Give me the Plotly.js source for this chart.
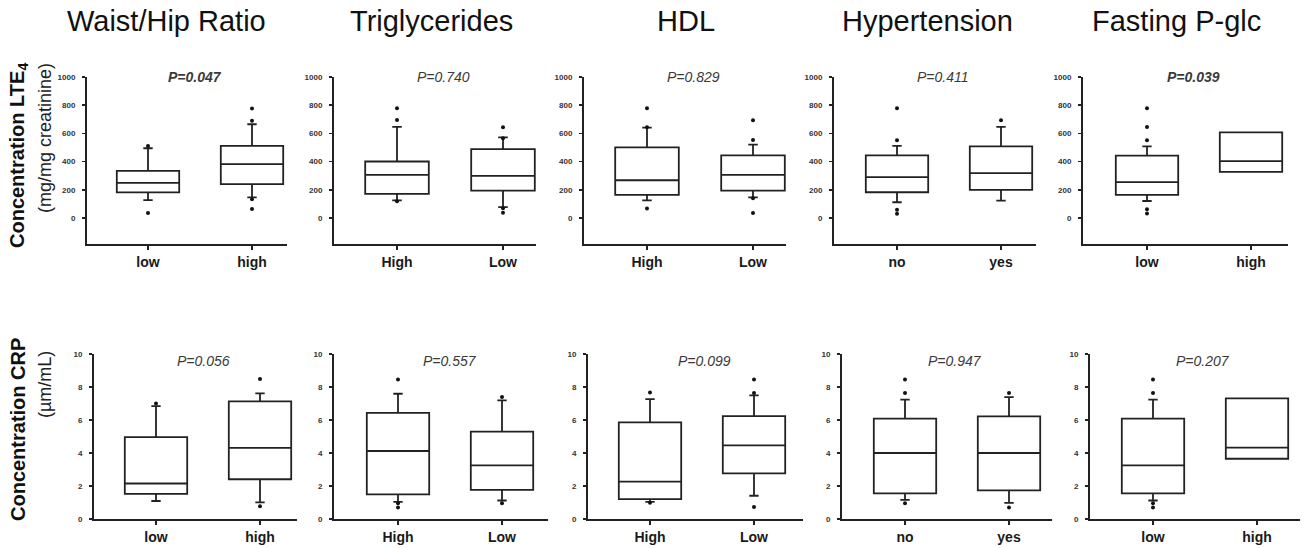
<!DOCTYPE html>
<html>
<head>
<meta charset="utf-8">
<script src="https://cdn.plot.ly/plotly-3.0.1.min.js"></script>
<style>html,body{margin:0;padding:0;background:#fff;}#chart{width:1313px;height:548px;}</style>
</head>
<body>
<div id="chart"></div>
<script>
// ---------- DATA ----------
const columnTitles = ["Waist/Hip Ratio", "Triglycerides", "HDL", "Hypertension", "Fasting P-glc"];
const groupLabels = [["low", "high"], ["High", "Low"], ["High", "Low"], ["no", "yes"], ["low", "high"]];

// LTE4 (mg/mg creatinine)
const lteQ1 = [[182, 240], [171, 195], [164, 195], [183, 200], [164, 328]];
const lteMedian = [[250, 382], [306, 299], [268, 306], [290, 318], [254, 404]];
const lteQ3 = [[335, 512], [401, 489], [501, 444], [444, 508], [442, 608]];
const lteLower = [[127, 146], [126, 78], [126, 147], [112, 124], [121, 328]];
const lteUpper = [[495, 665], [646, 572], [641, 520], [511, 646], [508, 608]];
const lteOutliers = [
  [[510, 35], [690, 776, 134, 64]],
  [[696, 779, 119], [565, 644, 69, 38]],
  [[644, 779, 67], [553, 694, 140, 36]],
  [[551, 779, 59, 31], [694]],
  [[551, 646, 779, 62, 33], []]
];
const ltePValues = [0.047, 0.740, 0.829, 0.411, 0.039];
const lteTicks = [0, 200, 400, 600, 800, 1000];

// CRP (µm/mL)
const crpQ1 = [[1.52, 2.41], [1.49, 1.77], [1.20, 2.77], [1.55, 1.73], [1.55, 3.65]];
const crpMedian = [[2.15, 4.31], [4.12, 3.25], [2.27, 4.46], [4.00, 4.00], [3.25, 4.32]];
const crpQ3 = [[4.96, 7.13], [6.43, 5.30], [5.86, 6.24], [6.08, 6.22], [6.08, 7.31]];
const crpLower = [[1.09, 1.01], [1.04, 1.12], [1.04, 1.41], [1.16, 0.98], [1.12, 3.65]];
const crpUpper = [[6.84, 7.61], [7.59, 7.19], [7.27, 7.49], [7.23, 7.39], [7.23, 7.31]];
const crpOutliers = [
  [[7.0], [8.48, 0.77]],
  [[8.45, 0.96, 0.70], [7.39, 0.96]],
  [[7.67, 0.98], [7.63, 8.45, 0.72]],
  [[7.63, 8.45, 0.96], [7.63, 0.70]],
  [[7.63, 8.45, 0.96, 0.70], []]
];
const crpPValues = [0.056, 0.557, 0.099, 0.947, 0.207];
const crpTicks = [0, 2, 4, 6, 8, 10];

// ---------- LAYOUT GEOMETRY ----------
const W = 1313, H = 548;
const FONT = "Liberation Sans, Arial, Helvetica, sans-serif";
const INK = "#222";
const rows = [
  { axes: [[87, 287], [334, 536], [584, 786], [834, 1036], [1083, 1288]],
    ticks: [[148, 252], [397, 503], [647, 753], [897, 1001], [1147, 1251]],
    yTop: 77, yBottom: 244, yRange: [-184, 1000], pY: 1000,
    q1: lteQ1, med: lteMedian, q3: lteQ3, lo: lteLower, hi: lteUpper, out: lteOutliers,
    p: ltePValues, yticks: lteTicks },
  { axes: [[94, 297], [334, 548], [588, 803], [842, 1052], [1090, 1300]],
    ticks: [[156, 260], [398, 502], [650, 754], [905, 1009], [1153, 1257]],
    yTop: 354, yBottom: 519, yRange: [0, 10], pY: 9.6,
    q1: crpQ1, med: crpMedian, q3: crpQ3, lo: crpLower, hi: crpUpper, out: crpOutliers,
    p: crpPValues, yticks: crpTicks }
];

const traces = [];
const layout = {
  width: W, height: H,
  margin: { l: 0, r: 0, t: 0, b: 0 },
  paper_bgcolor: "#fff", plot_bgcolor: "rgba(0,0,0,0)",
  showlegend: false,
  font: { family: FONT, color: INK },
  annotations: []
};

rows.forEach((row, r) => {
  for (let c = 0; c < 5; c++) {
    const k = r * 5 + c + 1;
    const xa = "x" + (k === 1 ? "" : k), ya = "y" + (k === 1 ? "" : k);
    const xKey = "xaxis" + (k === 1 ? "" : k), yKey = "yaxis" + (k === 1 ? "" : k);
    const cats = groupLabels[c];
    traces.push({
      type: "box", xaxis: xa, yaxis: ya,
      x: cats,
      q1: row.q1[c], median: row.med[c], q3: row.q3[c],
      lowerfence: row.lo[c], upperfence: row.hi[c],
      boxpoints: false, width: 0.6, whiskerwidth: 0.15,
      fillcolor: "rgba(0,0,0,0)",
      line: { color: INK, width: 1.8 },
      hoverinfo: "skip"
    });
    const ox = [], oy = [];
    row.out[c].forEach((vals, g) => vals.forEach(v => { ox.push(cats[g]); oy.push(v); }));
    if (ox.length) {
      traces.push({
        type: "scatter", mode: "markers", xaxis: xa, yaxis: ya,
        x: ox, y: oy,
        marker: { color: "#111", size: 4 },
        hoverinfo: "skip"
      });
    }
    const [a0, a1] = row.axes[c], [t0, t1] = row.ticks[c];
    const step = t1 - t0;
    layout[xKey] = {
      domain: [a0 / W, a1 / W], anchor: ya,
      type: "category", categoryorder: "array", categoryarray: cats,
      range: [(a0 - t0) / step, (a1 - t0) / step],
      showline: true, linecolor: INK, linewidth: 2,
      showgrid: false, zeroline: false,
      ticks: "outside", ticklen: 4, tickwidth: 1.5, tickcolor: INK,
      tickfont: { family: FONT, size: 14, weight: 700, color: "#1a1a1a" },
      ticklabelstandoff: 0,
      fixedrange: true
    };
    layout[yKey] = {
      domain: [1 - row.yBottom / H, 1 - row.yTop / H], anchor: xa,
      range: row.yRange,
      tickvals: row.yticks,
      showline: true, linecolor: INK, linewidth: 2,
      showgrid: false, zeroline: false,
      ticks: "outside", ticklen: 3, tickwidth: 1.5, tickcolor: INK,
      tickfont: { family: FONT, size: 8, weight: 700, color: "#333" },
      ticklabelstandoff: 5,
      fixedrange: true
    };
    const pv = row.p[c];
    let txt = "<i>P=" + pv.toFixed(3) + "</i>";
    if (pv < 0.05) txt = "<b>" + txt + "</b>";
    layout.annotations.push({
      xref: xa + " domain", yref: ya, x: 0.54, y: row.pY,
      xanchor: "center", yanchor: "middle", showarrow: false,
      text: txt, font: { family: FONT, size: 14, color: "#3a3a3a" }
    });
  }
});

// column titles
const titleCenters = [166, 431, 686, 927, 1176];
columnTitles.forEach((t, i) => {
  layout.annotations.push({
    xref: "paper", yref: "paper", x: titleCenters[i] / W, y: 1 - 21 / H,
    xanchor: "center", yanchor: "middle", showarrow: false,
    text: t, font: { family: FONT, size: 29, color: "#111" }
  });
});

// row (y-axis) titles
const rowTitles = [
  { main: "Concentration LTE<sub>4</sub>", unit: "(mg/mg creatinine)", mainY: 156, unitY: 138 },
  { main: "Concentration CRP", unit: "(µm/mL)", mainY: 430, unitY: 385 }
];
rowTitles.forEach(rt => {
  layout.annotations.push({
    xref: "paper", yref: "paper", x: 18 / W, y: 1 - rt.mainY / H,
    xanchor: "center", yanchor: "middle", showarrow: false, textangle: -90,
    text: "<b>" + rt.main + "</b>", font: { family: FONT, size: 20, color: "#111" }
  });
  layout.annotations.push({
    xref: "paper", yref: "paper", x: 45 / W, y: 1 - rt.unitY / H,
    xanchor: "center", yanchor: "middle", showarrow: false, textangle: -90,
    text: rt.unit, font: { family: FONT, size: 18, color: "#222" }
  });
});

Plotly.newPlot("chart", traces, layout, { staticPlot: true, displayModeBar: false });
</script>
</body>
</html>
